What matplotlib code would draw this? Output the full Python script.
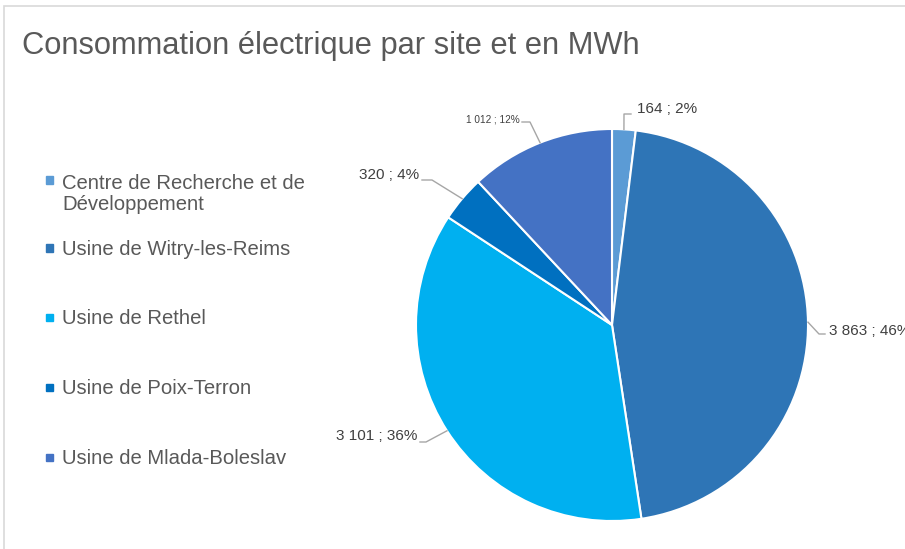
import numpy as np
import matplotlib.pyplot as plt
from matplotlib.patches import Rectangle

# -----------------------------
# Data
# -----------------------------
sites = [
    "Centre de Recherche et de\nDéveloppement",
    "Usine de Witry-les-Reims",
    "Usine de Rethel",
    "Usine de Poix-Terron",
    "Usine de Mlada-Boleslav",
]
mwh = [164, 3863, 3101, 320, 1012]
percents = [2, 46, 36, 4, 12]
colors = ["#5B9BD5", "#2E75B6", "#00B0F0", "#0070C0", "#4472C4"]

plt.rcParams["font.family"] = ["Liberation Sans", "DejaVu Sans"]

W, H = 905, 549
fig = plt.figure(figsize=(W / 100, H / 100), dpi=100)


def fpx(x, y):
    # pixel (from top-left) -> figure fraction
    return x / W, 1 - y / H


# pie geometry in pixels
cx, cy, r = 612, 325, 196


def dpx(x, y):
    # pixel -> pie data coords
    return (x - cx) / r, (cy - y) / r


# frame
fig.patches.append(Rectangle(fpx(4, 600), 1.2, (600 - 6) / H, transform=fig.transFigure,
                             fill=False, edgecolor="#D9D9D9", lw=1.2))

fig.text(*fpx(22, 46), "Consommation électrique par site et en MWh",
         fontsize=22.2, color="#595959", va="center", ha="left")

ax = fig.add_axes([(cx - r) / W, (H - cy - r) / H, 2 * r / W, 2 * r / H])
wedges, _ = ax.pie(mwh, colors=colors, startangle=90, counterclock=False,
                   wedgeprops=dict(edgecolor="white", linewidth=1.5))
ax.set_xlim(-1, 1)
ax.set_ylim(-1, 1)
ax.axis("off")

# -----------------------------
# Data labels with leader lines
# -----------------------------
# (elbow points, text anchor, ha, size) in pixels
label_layout = [
    ([(624, 114), (631, 114)], (637, 109), "left", 11),
    ([(819, 334), (825, 334)], (829, 331), "left", 11),
    ([(426, 442), (420, 442)], (417, 436), "right", 11),
    ([(432, 180), (422, 180)], (419, 175), "right", 11),
    ([(530, 122), (522, 122)], (520, 119), "right", 7.2),
]
for w, v, p, (elbows, tpos, ha, fs) in zip(wedges, mwh, percents, label_layout):
    mid = np.deg2rad((w.theta1 + w.theta2) / 2)
    xs = [np.cos(mid)] + [dpx(*e)[0] for e in elbows]
    ys = [np.sin(mid)] + [dpx(*e)[1] for e in elbows]
    ax.plot(xs, ys, color="#A6A6A6", lw=1, clip_on=False)
    txt = f"{v:,}".replace(",", " ") + f" ; {p}%"
    ax.text(*dpx(*tpos), txt, ha=ha, va="center", fontsize=fs,
            color="#404040", clip_on=False)

# -----------------------------
# Legend (drawn manually to keep Excel spacing)
# -----------------------------
legend_y = [180, 248, 317, 387, 457]
line_step = 23
for name, col, y in zip(sites, colors, legend_y):
    fig.patches.append(Rectangle(fpx(46, y + 3.5), 7 / W, 7 / H,
                                 transform=fig.transFigure, color=col))
    # baseline of the last line
    base = y + 7.2 + line_step * name.count("\n")
    fig.text(*fpx(62, base), name, fontsize=14.6, color="#595959",
             va="baseline", ha="left", linespacing=1.13)

fig.savefig("out.png", dpi=100, facecolor="white")
